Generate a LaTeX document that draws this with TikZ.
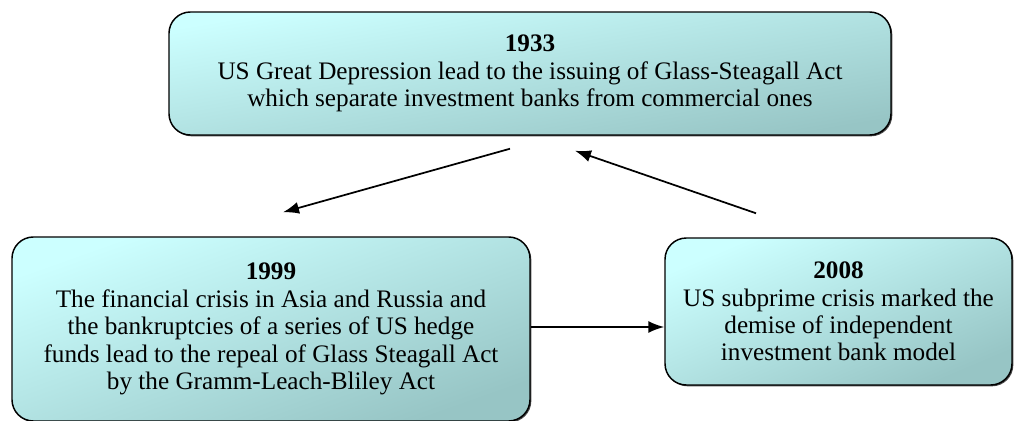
\documentclass[tikz,border=0pt]{standalone}
\usepackage{fontspec}
\setmainfont{Liberation Serif}
\usetikzlibrary{arrows.meta,shadows}
\definecolor{boxlight}{HTML}{CCFFFF}
\definecolor{boxdark}{HTML}{97C5C5}
\begin{document}
\begin{tikzpicture}[x=0.75pt, y=-0.75pt,
    event/.style={draw=black, line width=1.1pt, rounded corners=16pt,
      align=center, inner sep=0pt,
      top color=boxlight, bottom color=boxdark,
      drop shadow={shadow xshift=1pt, shadow yshift=-1pt, fill=black!70, opacity=1},
      font=\fontsize{18.9}{20.6}\selectfont},
    link/.style={line width=1.3pt, -{Latex[length=12pt,width=9pt]}}]
      \def\px{0.75pt}
      \useasboundingbox (0,0) rectangle (1015,421);
      %
      \node[event, minimum width=722*\px, minimum height=123*\px, shading angle=9.67] (y1933) at (530,73.5)
        {\textbf{1933}\\US Great Depression lead to the issuing of Glass-Steagall Act\\which separate investment banks from commercial ones};   % top box
      %
      \node[event, minimum width=518*\px, minimum height=184*\px, shading angle=19.56] (y1999) at (271,329)
        {\textbf{1999}\\The financial crisis in Asia and Russia and\\the bankruptcies of a series of US hedge\\funds lead to the repeal of Glass Steagall Act\\by the Gramm-Leach-Bliley Act};   % left box
      %
      \node[event, minimum width=347*\px, minimum height=147*\px, shading angle=22.96] (y2008) at (838.5,311.5)
        {\textbf{2008}\\US subprime crisis marked the\\demise of independent\\investment bank model};   % right box
      %
      \coordinate (a1) at ([shift={(-20,13)}]y1933.south);
      \coordinate (a2) at ([shift={(12,-24)}]y1999.north);
      \coordinate (b1) at ([shift={(-82.5,-24)}]y2008.north);
      \coordinate (b2) at ([shift={(45,15)}]y1933.south);
      \coordinate (c1) at ([shift={(0,-2)}]y1999.east);
      %
      \draw[link] (a1) -- (a2);
      \draw[link] (b1) -- (b2);
      \draw[link] (c1) -- (c1 -| y2008.west);
      %
    \end{tikzpicture}
\end{document}
